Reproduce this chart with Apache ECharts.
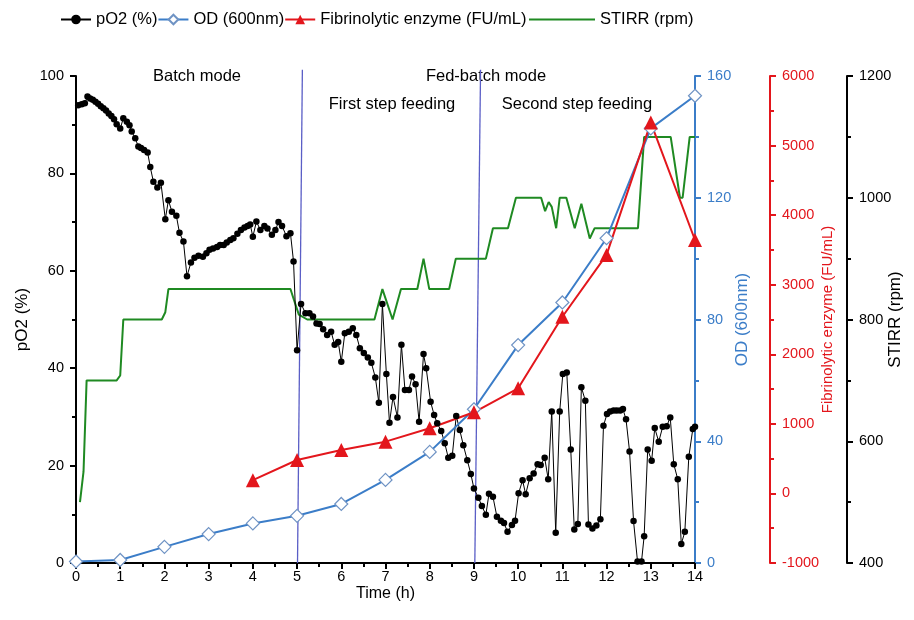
<!DOCTYPE html>
<html>
<head>
<meta charset="utf-8">
<script src="https://cdn.jsdelivr.net/npm/echarts@6/dist/echarts.min.js"></script>
<style>
  html, body { margin: 0; padding: 0; background: #fff; }
  #chart { width: 914px; height: 620px; }
</style>
</head>
<body>
<div id="chart"></div>
<script>
// pO2 (%) sampled along the run
const pO2Time = [0.05, 0.13, 0.2, 0.26, 0.32, 0.38, 0.44, 0.5, 0.56, 0.62, 0.68, 0.74, 0.8, 0.86, 0.92, 1.0,
  1.07, 1.15, 1.21, 1.26, 1.34, 1.41, 1.47, 1.54, 1.62, 1.68, 1.75, 1.84, 1.92, 2.02, 2.09, 2.17, 2.27,
  2.34, 2.43, 2.51, 2.6, 2.68, 2.77, 2.87, 2.95, 3.02, 3.1, 3.19, 3.26, 3.34, 3.41, 3.49, 3.56, 3.65,
  3.73, 3.81, 3.88, 3.94, 4.0, 4.08, 4.17, 4.26, 4.33, 4.43, 4.51, 4.58, 4.66, 4.76, 4.85, 4.92, 5.0,
  5.09, 5.19, 5.28, 5.36, 5.44, 5.51, 5.59, 5.68, 5.77, 5.85, 5.93, 6.0, 6.08, 6.17, 6.26, 6.34, 6.42,
  6.51, 6.6, 6.68, 6.77, 6.85, 6.93, 7.02, 7.09, 7.17, 7.27, 7.36, 7.44, 7.53, 7.6, 7.68, 7.76, 7.86,
  7.92, 8.02, 8.1, 8.17, 8.26, 8.34, 8.42, 8.51, 8.6, 8.68, 8.76, 8.85, 8.93, 9.0, 9.1, 9.18, 9.27,
  9.34, 9.43, 9.52, 9.61, 9.68, 9.76, 9.86, 9.93, 10.01, 10.1, 10.17, 10.26, 10.35, 10.44, 10.51, 10.6,
  10.68, 10.76, 10.85, 10.94, 11.01, 11.1, 11.19, 11.27, 11.35, 11.43, 11.52, 11.59, 11.68, 11.77,
  11.86, 11.93, 12.01, 12.08, 12.16, 12.23, 12.31, 12.37, 12.44, 12.52, 12.61, 12.7, 12.79, 12.85,
  12.93, 13.02, 13.09, 13.18, 13.27, 13.36, 13.44, 13.52, 13.61, 13.69, 13.77, 13.86, 13.95, 14.0];
const pO2Val = [94.0, 94.2, 94.4, 95.8, 95.4, 95.1, 94.7, 94.3, 93.8, 93.4, 92.9, 92.3, 91.8, 91.1, 90.1, 89.2,
  91.3, 90.6, 89.9, 88.6, 87.2, 85.5, 85.2, 84.8, 84.3, 81.3, 78.3, 77.1, 78.1, 70.6, 74.5, 72.1, 71.3,
  67.8, 66.0, 58.9, 61.7, 62.7, 63.1, 62.9, 63.6, 64.3, 64.6, 64.9, 65.3, 65.3, 65.8, 66.3, 66.7, 67.6,
  68.4, 68.9, 69.2, 69.5, 67.0, 70.1, 68.4, 69.2, 68.7, 67.4, 68.4, 70.0, 69.2, 67.1, 67.7, 61.9, 43.7,
  53.2, 51.3, 51.3, 50.6, 49.2, 49.1, 48.0, 46.8, 47.5, 44.8, 45.4, 41.3, 47.2, 47.5, 48.2, 46.8, 44.1,
  43.1, 42.2, 41.1, 38.1, 32.9, 53.2, 38.8, 28.8, 34.1, 29.9, 44.8, 35.5, 35.5, 38.3, 36.7, 29.0, 42.9,
  40.0, 33.1, 30.4, 28.7, 27.1, 24.6, 21.6, 22.0, 30.2, 27.3, 24.2, 21.1, 18.3, 15.3, 13.4, 11.7, 9.9,
  14.2, 13.6, 9.5, 8.7, 8.2, 6.4, 7.8, 8.7, 14.3, 17.0, 14.1, 17.4, 18.4, 20.3, 20.1, 21.6,
  17.2, 31.1, 6.2, 31.1, 38.8, 39.1, 23.3, 6.9, 8.0, 36.1, 33.3, 7.9, 7.1, 7.7,
  9.0, 28.2, 30.6, 31.1, 31.3, 31.3, 31.3, 31.6, 29.5, 22.9, 8.6, 0.3, 0.3, 5.5,
  23.3, 21.0, 27.7, 24.9, 28.0, 28.1, 29.9, 20.3, 17.2, 3.9, 6.4, 21.8, 27.5, 28.0];

// OD (600nm) and fibrinolytic activity, hourly samples
const odTime = [0, 1, 2, 3, 4, 5, 6, 7, 8, 9, 10, 11, 12, 13, 14];
const odVal = [0.5, 1, 5.3, 9.5, 13, 15.5, 19.4, 27.3, 36.5, 50.5, 71.6, 85.6, 106.7, 142.8, 153.5];
const fibTime = [4, 5, 6, 7, 8, 9, 10, 11, 12, 13, 14];
const fibVal = [190, 480, 624, 744, 936, 1166, 1511, 2540, 3428, 5330, 3643];

// stirrer speed (rpm), vertices of the trace
const stirrTime = [0.09, 0.17, 0.24, 0.92, 1.0, 1.07, 1.94, 2.02, 2.09, 4.85, 4.93, 5.04, 5.23, 6.75,
  6.93, 7.16, 7.35, 7.72, 7.86, 7.99, 8.44, 8.59, 9.27, 9.43, 9.77, 9.95, 10.52, 10.61, 10.69, 10.76,
  10.86, 10.94, 11.09, 11.28, 11.43, 11.62, 11.73, 12.71, 12.85, 13.45, 13.66, 13.72, 13.88, 14.0];
const stirrVal = [500, 550, 700, 700, 708, 800, 800, 812, 850, 850, 832, 808, 800, 800,
  850, 800, 850, 850, 900, 850, 850, 900, 900, 950, 950, 1000, 1000, 978, 993, 985,
  950, 1000, 1000, 950, 990, 933, 950, 950, 1100, 1100, 1000, 1000, 1100, 1100];

// phase boundaries: time at bottom / top of the plot, and labels
const phaseLines = [[5.01, 5.12], [9.02, 9.15]];
const phaseText = ['Batch mode', 'Fed-batch mode', 'First step feeding', 'Second step feeding'];

const zip = (xs, ys) => xs.map((x, i) => [x, ys[i]]);

const FONT = '"Liberation Sans", Arial, sans-serif';
const BLUE = '#3b7dc8', RED = '#e3161c', GREEN = '#1f8a22', BLACK = '#000';

function yAxisOf (o) {
  return {
    type: 'value',
    position: o.pos,
    offset: o.offset || 0,
    min: o.min, max: o.max, interval: o.interval,
    name: o.name,
    nameLocation: 'middle',
    nameRotate: 90,
    nameGap: o.gap,
    nameMoveOverlap: false,
    nameTextStyle: { color: o.color, fontSize: o.nameSize || 17, fontFamily: FONT },
    axisLine: { show: true, lineStyle: { color: o.color, width: 2 } },
    axisTick: { show: true, length: 6, lineStyle: { color: o.color, width: 2 } },
    minorTick: { show: true, splitNumber: 2, length: 4, lineStyle: { color: o.color, width: 2 } },
    axisLabel: { color: o.color, fontSize: 14.5, fontFamily: FONT, margin: 12, formatter: v => String(v) },
    splitLine: { show: false }
  };
}

const phaseSeries = phaseLines.map((p, i) => ({
  name: 'phase' + i, type: 'line', yAxisIndex: 0,
  data: [[p[0], 0], [p[1], 101.3]],
  symbol: 'none', silent: true, z: 1, clip: false,
  lineStyle: { color: '#5a5ec6', width: 1.3 }
}));

const chart = echarts.init(document.getElementById('chart'));
chart.setOption({
  animation: false,
  backgroundColor: '#fff',
  textStyle: { fontFamily: FONT },
  grid: { left: 76, right: 219, top: 76, bottom: 57, containLabel: false, outerBoundsMode: 'none' },
  legend: [{
    data: ['pO2 (%)', 'OD (600nm)', 'Fibrinolytic enzyme (FU/mL)'],
    left: 55, top: 6, itemWidth: 30, itemHeight: 12, itemGap: 0,
    textStyle: { fontSize: 16.5, fontFamily: FONT, color: '#000' }
  }, {
    data: [{ name: 'STIRR (rpm)', icon: 'rect' }],
    left: 524, top: 6, itemWidth: 66, itemHeight: 2,
    textStyle: { fontSize: 16.5, fontFamily: FONT, color: '#000' }
  }],
  xAxis: {
    type: 'value', min: 0, max: 14, interval: 1,
    name: 'Time (h)', nameLocation: 'middle', nameGap: 23, nameMoveOverlap: false,
    nameTextStyle: { color: '#000', fontSize: 16, fontFamily: FONT },
    axisLine: { onZero: false, lineStyle: { color: BLACK, width: 2 } },
    axisTick: { length: 6, lineStyle: { color: BLACK, width: 2 } },
    minorTick: { show: true, splitNumber: 2, length: 4, lineStyle: { color: BLACK, width: 2 } },
    axisLabel: { color: '#000', fontSize: 14.5, fontFamily: FONT, margin: 6 },
    splitLine: { show: false }
  },
  yAxis: [
    yAxisOf({ pos: 'left', min: 0, max: 100, interval: 20, name: 'pO2 (%)', gap: 45, color: BLACK }),
    yAxisOf({ pos: 'right', min: 0, max: 160, interval: 40, name: 'OD (600nm)', gap: 39, color: BLUE }),
    yAxisOf({ pos: 'right', offset: 75, min: -1000, max: 6000, interval: 1000,
      name: 'Fibrinolytic enzyme (FU/mL)', gap: 50, nameSize: 15, color: RED }),
    yAxisOf({ pos: 'right', offset: 152, min: 400, max: 1200, interval: 200, name: 'STIRR (rpm)', gap: 40, color: BLACK })
  ],
  graphic: [
    { type: 'text', x: 197, y: 76, style: { text: phaseText[0], fontSize: 16.5, fontFamily: FONT, fill: '#000', align: 'center', verticalAlign: 'middle' } },
    { type: 'text', x: 486, y: 76, style: { text: phaseText[1], fontSize: 16.5, fontFamily: FONT, fill: '#000', align: 'center', verticalAlign: 'middle' } },
    { type: 'text', x: 392, y: 104, style: { text: phaseText[2], fontSize: 16.5, fontFamily: FONT, fill: '#000', align: 'center', verticalAlign: 'middle' } },
    { type: 'text', x: 577, y: 104, style: { text: phaseText[3], fontSize: 16.5, fontFamily: FONT, fill: '#000', align: 'center', verticalAlign: 'middle' } }
  ],
  series: phaseSeries.concat([
    {
      name: 'STIRR (rpm)', type: 'line', yAxisIndex: 3,
      data: zip(stirrTime, stirrVal),
      symbol: 'none', lineStyle: { color: GREEN, width: 2 }, itemStyle: { color: GREEN }
    },
    {
      name: 'pO2 (%)', type: 'line', yAxisIndex: 0,
      data: zip(pO2Time, pO2Val),
      symbol: 'circle', symbolSize: 6.5,
      lineStyle: { color: BLACK, width: 1 }, itemStyle: { color: BLACK }
    },
    {
      name: 'OD (600nm)', type: 'line', yAxisIndex: 1,
      data: zip(odTime, odVal),
      symbol: 'diamond', symbolSize: 13,
      lineStyle: { color: BLUE, width: 2 },
      itemStyle: { color: '#fff', borderColor: '#6f93c4', borderWidth: 1.2 }
    },
    {
      name: 'Fibrinolytic enzyme (FU/mL)', type: 'line', yAxisIndex: 2,
      data: zip(fibTime, fibVal),
      symbol: 'triangle', symbolSize: 14,
      lineStyle: { color: RED, width: 2 }, itemStyle: { color: RED }
    }
  ])
});
</script>
</body>
</html>
